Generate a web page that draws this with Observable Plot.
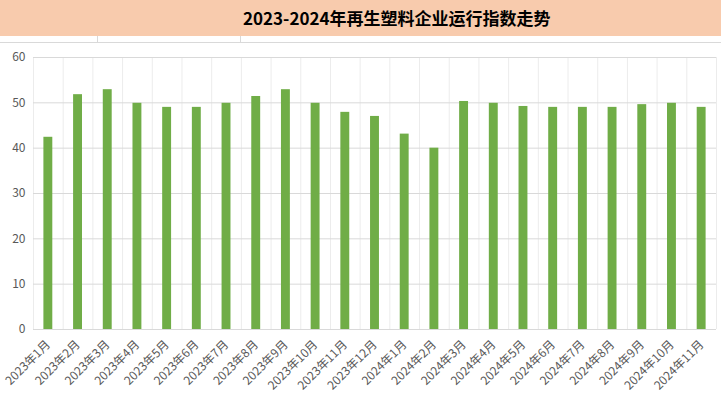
<!DOCTYPE html>
<html>
<head>
<meta charset="utf-8">
<script src="https://cdn.jsdelivr.net/npm/d3@7"></script>
<script src="https://cdn.jsdelivr.net/npm/@observablehq/plot@0.6"></script>
<style>
  html, body { margin: 0; padding: 0; background: #fff; }
  #wrap { width: 721px; height: 394px; position: relative; overflow: hidden; }
  #title { height: 36px; background: #F8CBAD; position: relative; }
  #title span { position: absolute; left: 243px; top: 7px; font-family: "Noto Sans CJK SC", sans-serif; font-weight: bold; font-size: 17px; line-height: 22px; color: #000; white-space: nowrap; }
  #band { height: 6px; border-bottom: 1px solid #d9d9d9; position: relative; }
  #band i { position: absolute; top: 0; width: 1px; height: 6px; background: #d9d9d9; }
</style>
</head>
<body>
<div id="wrap">
  <div id="title"><span>2023-2024年再生塑料企业运行指数走势</span></div>
  <div id="band"><i style="left:97px"></i><i style="left:240px"></i></div>
  <div id="chart"></div>
</div>
<script>
const months = ["2023年1月","2023年2月","2023年3月","2023年4月","2023年5月","2023年6月","2023年7月","2023年8月","2023年9月","2023年10月","2023年11月","2023年12月","2024年1月","2024年2月","2024年3月","2024年4月","2024年5月","2024年6月","2024年7月","2024年8月","2024年9月","2024年10月","2024年11月"];
const values = [42.4, 51.8, 52.9, 49.9, 49.0, 49.0, 49.9, 51.4, 52.9, 49.9, 47.9, 47.0, 43.1, 40.0, 50.3, 49.9, 49.2, 49.0, 49.0, 49.0, 49.6, 49.9, 49.0];
const yTicks = [0, 10, 20, 30, 40, 50, 60];

const data = months.map((m, i) => ({month: m, value: values[i]}));

const W = 721, H = 351;
const mL = 33, mR = 5, mT = 14, mB = 65;
const step = (W - mL - mR) / months.length;

const chart = Plot.plot({
  width: W,
  height: H,
  marginLeft: mL,
  marginRight: mR,
  marginTop: mT,
  marginBottom: mB,
  style: {fontFamily: "'Noto Sans CJK SC', sans-serif", color: "#595959", background: "#fff"},
  x: {domain: months, paddingInner: 0.7, paddingOuter: 0.35, round: false, label: null},
  y: {domain: [0, 60], label: null},
  marks: [
    Plot.ruleX(months, {x: d => d, dx: -step / 2, stroke: "#ececec", strokeWidth: 1}),
    Plot.ruleX([months[months.length - 1]], {x: d => d, dx: step / 2, stroke: "#ececec", strokeWidth: 1}),
    Plot.ruleY(yTicks, {y: d => d, stroke: "#d9d9d9", strokeWidth: 1}),
    Plot.barY(data, {x: "month", y: "value", fill: "#70AD47"}),
    Plot.axisY({ticks: yTicks, tickSize: 0, tickPadding: 8, fontSize: 12, fill: "#595959"}),
    Plot.axisX({tickSize: 0, tickRotate: -45, tickPadding: 13, fontSize: 12, fill: "#595959"})
  ]
});
document.getElementById("chart").appendChild(chart);
</script>
</body>
</html>
